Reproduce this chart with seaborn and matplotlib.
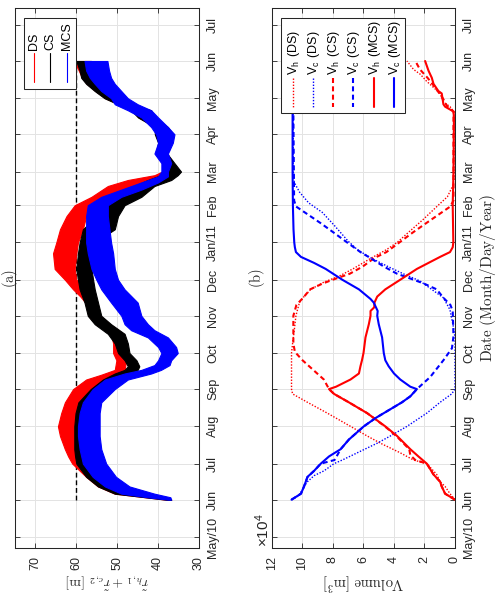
import numpy as np
import pandas as pd
import matplotlib
matplotlib.use("Agg")
import matplotlib.pyplot as plt
import seaborn as sns
from matplotlib.patches import Rectangle
from matplotlib.lines import Line2D
from matplotlib.transforms import Affine2D

sns.set_theme(style="white")
plt.rcParams['font.family'] = ['Liberation Sans', 'DejaVu Sans']
plt.rcParams['mathtext.fontset'] = 'cm'

# ---------------- data ----------------
tick_labels = ['May/10', 'Jun', 'Jul', 'Aug', 'Sep', 'Oct', 'Nov', 'Dec',
               'Jan/11', 'Feb', 'Mar', 'Apr', 'May', 'Jun', 'Jul']

# panel (a): band envelopes (low, high) of r_h1 + r_c2 [m]
a_ds_dates = ['2010-06-01', '2010-06-06', '2010-06-12', '2010-06-20', '2010-07-01', '2010-07-07',
              '2010-07-13', '2010-07-24', '2010-08-01', '2010-08-12', '2010-08-21', '2010-09-01',
              '2010-09-09', '2010-09-13', '2010-09-17', '2010-09-25', '2010-10-01', '2010-10-09',
              '2010-10-17', '2010-10-25', '2010-11-01', '2010-11-12', '2010-11-17', '2010-11-23',
              '2010-12-01', '2010-12-10', '2010-12-23', '2011-01-01', '2011-01-12', '2011-01-23',
              '2011-02-01', '2011-02-08', '2011-02-17', '2011-02-22', '2011-02-26', '2011-03-01',
              '2011-03-08', '2011-03-16', '2011-03-25', '2011-04-01', '2011-04-07', '2011-04-15',
              '2011-04-21', '2011-04-26', '2011-05-01', '2011-05-07', '2011-05-13', '2011-05-18',
              '2011-05-24', '2011-06-01']
a_ds_low = [36.8, 45.8, 50.6, 53.5, 57.0, 59.0, 60.0, 60.0, 60.0, 59.6, 58.8, 55.5,
            50.6, 49.0, 48.2, 47.8, 48.0, 48.0, 48.5, 51.8, 54.2, 55.0, 55.8, 56.5,
            60.0, 60.4, 60.0, 59.6, 58.4, 57.6, 56.3, 51.5, 45.8, 40.9, 38.5, 37.3,
            36.5, 38.0, 37.0, 36.6, 37.8, 41.0, 41.9, 46.8, 49.2, 51.7, 54.1, 55.3,
            56.1, 56.5]
a_ds_high = [38.0, 50.6, 54.7, 57.6, 61.0, 62.0, 62.8, 64.0, 64.5, 63.7, 62.8, 60.8,
             57.6, 53.9, 50.6, 50.2, 51.0, 51.0, 51.5, 55.2, 57.0, 57.8, 59.0, 60.8,
             62.8, 65.3, 65.7, 64.9, 64.0, 62.4, 60.4, 56.3, 52.3, 47.4, 40.9, 39.0,
             38.0, 40.3, 39.8, 40.6, 40.6, 44.7, 46.4, 49.6, 52.9, 55.3, 57.4, 58.6,
             59.4, 60.6]

a_cs_dates = ['2010-06-01', '2010-06-06', '2010-06-12', '2010-06-20', '2010-07-01', '2010-07-07',
              '2010-07-13', '2010-07-24', '2010-08-01', '2010-08-12', '2010-08-21', '2010-09-01',
              '2010-09-09', '2010-09-14', '2010-09-17', '2010-09-20', '2010-09-25', '2010-10-01',
              '2010-10-09', '2010-10-17', '2010-10-25', '2010-11-01', '2010-11-12', '2010-11-23',
              '2010-12-01', '2010-12-10', '2010-12-23', '2011-01-01', '2011-01-12', '2011-01-23',
              '2011-02-01', '2011-02-08', '2011-02-17', '2011-02-22', '2011-02-26', '2011-03-01',
              '2011-03-08', '2011-03-16', '2011-03-25', '2011-04-01', '2011-04-07', '2011-04-15',
              '2011-04-21', '2011-04-26', '2011-05-01', '2011-05-07', '2011-05-13', '2011-05-18',
              '2011-05-24', '2011-06-01']
a_cs_low = [36.8, 45.8, 50.6, 53.5, 56.3, 56.5, 56.5, 56.5, 56.5, 56.0, 55.0, 53.5,
            49.0, 45.8, 45.0, 44.6, 45.3, 47.0, 47.4, 48.2, 51.5, 53.9, 54.7, 55.5,
            55.9, 56.3, 56.3, 55.5, 50.6, 49.8, 48.2, 44.1, 40.9, 36.8, 35.2, 34.4,
            36.0, 37.8, 36.8, 36.4, 37.6, 40.9, 41.7, 46.6, 49.0, 51.5, 53.9, 55.1,
            55.9, 56.3]
a_cs_high = [38.0, 50.6, 54.7, 57.6, 60.0, 60.3, 60.5, 60.5, 60.5, 60.2, 59.5, 56.5,
             53.5, 50.6, 48.2, 47.4, 48.2, 49.8, 50.6, 52.3, 55.5, 57.2, 58.0, 59.2,
             59.6, 60.0, 59.6, 59.2, 58.4, 55.0, 53.0, 49.0, 45.8, 42.5, 39.3, 37.6,
             37.6, 40.5, 40.0, 40.8, 40.8, 44.9, 46.6, 49.8, 53.1, 55.5, 57.6, 58.8,
             59.2, 60.0]

a_mcs_dates = ['2010-06-01', '2010-06-03', '2010-06-06', '2010-06-12', '2010-06-20', '2010-07-01',
               '2010-07-13', '2010-07-24', '2010-08-01', '2010-08-12', '2010-08-21', '2010-09-01',
               '2010-09-09', '2010-09-14', '2010-09-17', '2010-09-21', '2010-09-25', '2010-10-01',
               '2010-10-06', '2010-10-14', '2010-10-20', '2010-10-25', '2010-11-01', '2010-11-12',
               '2010-11-23', '2010-12-01', '2010-12-10', '2010-12-23', '2011-01-01', '2011-01-12',
               '2011-01-23', '2011-02-01', '2011-02-08', '2011-02-14', '2011-02-20', '2011-02-25',
               '2011-03-01', '2011-03-08', '2011-03-16', '2011-03-25', '2011-04-01', '2011-04-07',
               '2011-04-15', '2011-04-21', '2011-04-26', '2011-05-01', '2011-05-07', '2011-05-13',
               '2011-05-18', '2011-05-24', '2011-06-01']
a_mcs_low = [36.8, 37.0, 40.9, 47.0, 50.3, 52.7, 53.9, 54.3, 54.3, 54.3, 53.9, 50.6,
             47.4, 41.7, 39.3, 37.2, 36.8, 35.2, 35.6, 37.6, 40.9, 42.5, 44.1, 45.0,
             48.2, 49.8, 50.6, 51.0, 51.5, 51.9, 52.3, 52.3, 49.0, 44.1, 40.0, 37.6,
             37.6, 36.8, 37.6, 36.4, 36.0, 37.6, 40.0, 41.7, 45.0, 47.4, 49.0, 50.6,
             51.5, 52.0, 52.4]
a_mcs_high = [37.5, 42.5, 49.0, 53.0, 56.0, 58.4, 59.2, 59.6, 59.6, 59.2, 58.4, 56.0,
              53.0, 48.2, 44.1, 40.9, 40.0, 39.2, 40.0, 42.5, 46.6, 48.2, 49.0, 51.5,
              53.9, 55.1, 56.3, 57.2, 57.6, 57.6, 57.6, 57.2, 53.9, 49.0, 44.1, 40.0,
              39.2, 39.2, 40.9, 40.0, 40.5, 41.7, 44.1, 47.4, 50.6, 51.5, 53.9, 55.5,
              56.7, 57.6, 58.0]

ref_level = 60
ref_dates = ['2010-06-01', '2011-06-01']

# panel (b): volumes [x 10^4 m^3]
vh_ds_dates = ['2010-06-01', '2010-06-06', '2010-06-12', '2010-06-16', '2010-06-22', '2010-06-28',
               '2010-07-01', '2010-07-04', '2010-07-10', '2010-07-18', '2010-07-24', '2010-08-01',
               '2010-08-12', '2010-08-21', '2010-08-28', '2010-09-01', '2010-10-01', '2010-10-09',
               '2010-10-20', '2010-11-01', '2010-11-04', '2010-11-12', '2010-11-17', '2010-11-23',
               '2010-11-29', '2010-12-04', '2010-12-10', '2010-12-19', '2010-12-26', '2011-01-01',
               '2011-01-10', '2011-01-20', '2011-02-01', '2011-02-08', '2011-02-17', '2011-02-22',
               '2011-04-20', '2011-04-24', '2011-04-28', '2011-05-05', '2011-05-10', '2011-05-15',
               '2011-05-21', '2011-05-25', '2011-06-01']
vh_ds = [0.0, 0.33, 0.65, 0.98, 1.2, 1.63, 1.85, 2.72, 3.59, 4.89, 5.76, 6.85,
         8.37, 9.67, 10.65, 10.72, 10.72, 10.65, 10.54, 10.43, 10.37, 10.2, 9.9, 9.46,
         8.6, 7.6, 6.7, 5.5, 4.5, 3.8, 3.0, 2.1, 1.1, 0.5, 0.15, 0.07,
         0.07, 0.33, 0.76, 0.98, 1.41, 1.85, 2.28, 2.72, 3.15]

vc_ds_dates = ['2010-06-01', '2010-06-04', '2010-06-06', '2010-06-12', '2010-06-16', '2010-06-21',
               '2010-06-25', '2010-07-01', '2010-07-04', '2010-07-10', '2010-07-18', '2010-07-24',
               '2010-08-01', '2010-08-12', '2010-08-21', '2010-08-28', '2010-09-01', '2010-10-14',
               '2010-10-23', '2010-11-06', '2010-11-16', '2010-11-20', '2010-11-30', '2010-12-06',
               '2010-12-12', '2010-12-19', '2010-12-26', '2011-01-02', '2011-01-15', '2011-01-26',
               '2011-02-03', '2011-02-12', '2011-02-20', '2011-03-01', '2011-04-20', '2011-05-01',
               '2011-05-15', '2011-06-01']
vc_ds = [10.72, 10.3, 10.15, 9.9, 9.67, 9.24, 8.59, 7.93, 7.39, 6.41, 5.1, 4.24,
         3.15, 1.85, 0.98, 0.22, 0.0, 0.0, 0.11, 0.33, 0.76, 1.2, 2.3, 3.4,
         4.4, 5.5, 6.4, 7.0, 7.9, 8.7, 9.6, 10.2, 10.54, 10.6, 10.62, 10.3,
         9.0, 7.6]

vh_cs_dates = ['2010-06-01', '2010-06-06', '2010-06-12', '2010-06-16', '2010-06-22', '2010-07-01',
               '2010-07-04', '2010-07-08', '2010-07-13', '2010-07-24', '2010-08-01', '2010-08-12',
               '2010-08-21', '2010-08-28', '2010-09-01', '2010-09-09', '2010-09-17', '2010-09-25',
               '2010-10-02', '2010-10-09', '2010-11-01', '2010-11-10', '2010-11-16', '2010-11-23',
               '2010-11-28', '2010-12-02', '2010-12-06', '2010-12-12', '2010-12-19', '2010-12-24',
               '2011-01-01', '2011-01-09', '2011-01-17', '2011-01-31', '2011-02-05', '2011-04-20',
               '2011-04-24', '2011-05-01', '2011-05-10', '2011-05-18', '2011-05-25', '2011-06-01']
vh_cs = [0.0, 0.65, 0.87, 0.98, 1.41, 1.85, 2.6, 2.93, 3.0, 3.85, 4.6, 5.76,
         6.96, 7.93, 8.26, 8.6, 9.3, 10.0, 10.5, 10.6, 10.6, 10.4, 9.96, 9.5,
         8.65, 7.8, 6.9, 6.05, 5.3, 4.5, 3.65, 2.8, 1.9, 0.3, 0.1, 0.1,
         0.5, 0.8, 1.3, 1.8, 2.3, 2.6]

vc_cs_dates = ['2010-06-01', '2010-06-06', '2010-06-12', '2010-06-20', '2010-06-25', '2010-07-01',
               '2010-07-04', '2010-07-08', '2010-07-13', '2010-07-21', '2010-08-01', '2010-08-08',
               '2010-08-12', '2010-08-21', '2010-08-26', '2010-09-01', '2010-09-11', '2010-09-25',
               '2010-10-05', '2010-10-15', '2010-11-05', '2010-11-10', '2010-11-16', '2010-11-23',
               '2010-11-28', '2010-12-02', '2010-12-06', '2010-12-12', '2010-12-19', '2010-12-24',
               '2011-01-01', '2011-01-09', '2011-01-17', '2011-01-31', '2011-02-05', '2011-04-20',
               '2011-05-01', '2011-05-15', '2011-06-01']
vc_cs = [10.72, 10.1, 9.9, 9.67, 9.24, 8.8, 7.9, 7.72, 7.5, 6.96, 5.98, 5.2,
         4.67, 3.48, 2.93, 2.5, 1.63, 0.76, 0.2, 0.1, 0.15, 0.3, 0.76, 1.2,
         2.07, 2.93, 3.8, 4.67, 5.54, 6.2, 7.07, 7.93, 8.8, 10.43, 10.55, 10.6,
         10.2, 9.2, 8.1]

vh_mcs_dates = ['2010-06-01', '2010-06-06', '2010-06-12', '2010-06-16', '2010-06-22', '2010-07-01',
                '2010-07-07', '2010-07-13', '2010-07-24', '2010-08-01', '2010-08-12', '2010-08-21',
                '2010-08-28', '2010-09-01', '2010-09-03', '2010-09-09', '2010-09-14', '2010-09-20',
                '2010-09-25', '2010-10-01', '2010-10-14', '2010-10-25', '2010-11-01', '2010-11-05',
                '2010-11-08', '2010-11-12', '2010-11-17', '2010-11-23', '2010-12-01', '2010-12-10',
                '2010-12-15', '2010-12-20', '2010-12-24', '2010-12-28', '2011-01-01', '2011-02-01',
                '2011-03-01', '2011-04-15', '2011-04-20', '2011-04-24', '2011-04-26', '2011-05-05',
                '2011-05-07', '2011-05-13', '2011-05-18', '2011-05-24', '2011-06-01']
vh_mcs = [0.0, 0.65, 0.87, 0.98, 1.41, 1.85, 2.4, 2.93, 3.8, 4.57, 5.76, 6.96,
          7.93, 8.26, 7.8, 6.85, 6.3, 6.2, 6.1, 6.0, 5.87, 5.65, 5.54, 5.54,
          5.3, 5.28, 5.1, 4.57, 3.59, 2.5, 1.74, 0.98, 0.33, 0.15, 0.11, 0.15,
          0.1, 0.07, 0.1, 0.65, 0.76, 0.87, 1.09, 1.41, 1.52, 1.74, 1.96]

vc_mcs_dates = ['2010-06-01', '2010-06-06', '2010-06-12', '2010-06-20', '2010-06-25', '2010-07-01',
                '2010-07-07', '2010-07-13', '2010-07-21', '2010-08-01', '2010-08-08', '2010-08-12',
                '2010-08-21', '2010-08-26', '2010-09-01', '2010-09-03', '2010-09-09', '2010-09-14',
                '2010-09-20', '2010-09-25', '2010-10-01', '2010-10-14', '2010-10-25', '2010-11-01',
                '2010-11-05', '2010-11-12', '2010-11-15', '2010-11-23', '2010-12-01', '2010-12-10',
                '2010-12-15', '2010-12-20', '2010-12-24', '2010-12-28', '2011-01-01', '2011-01-12',
                '2011-02-01', '2011-03-01', '2011-04-20', '2011-04-26', '2011-05-07', '2011-05-18',
                '2011-06-01']
vc_mcs = [10.72, 10.1, 9.9, 9.67, 9.24, 8.8, 8.26, 7.5, 6.96, 5.98, 5.2, 4.67,
          3.48, 2.93, 2.5, 2.93, 3.59, 4.0, 4.35, 4.57, 4.67, 4.78, 5.0, 5.1,
          5.07, 5.33, 5.54, 6.3, 7.39, 8.48, 9.24, 10.1, 10.43, 10.5, 10.54, 10.59,
          10.63, 10.65, 10.65, 10.0, 9.6, 9.1, 8.7]

# ---------------- helpers ----------------
BASE = pd.Timestamp('2010-05-01')


def days(ds):
    return np.asarray((pd.to_datetime(ds) - BASE).days, dtype=float)


tick_days = days(pd.date_range('2010-05-01', '2011-07-01', freq='MS'))

W, H = 502, 594
fig = plt.figure(figsize=(W / 100, H / 100), dpi=100)
T = Affine2D().scale(1.0 / W, -1.0 / H).translate(0, 1) + fig.transFigure  # image pixels

axA = fig.add_axes([15 / W, 1 - 548 / H, 184 / W, 540 / H])
axB = fig.add_axes([272 / W, 1 - 548 / H, 183 / W, 540 / H])

DARK = '#262626'
RED, BLUE, BLACK = '#ff0000', '#0000ff', '#000000'

# ---------------- panel (a) ----------------
sns.lineplot(x=[ref_level, ref_level], y=days(ref_dates), orient='y', estimator=None,
             sort=False, color='black', lw=1.0, linestyle=(0, (3.5, 2.0)), ax=axA)
axA.lines[-1].set_zorder(0.9)

for dates, lo, hi, col in [(a_ds_dates, a_ds_low, a_ds_high, RED),
                           (a_cs_dates, a_cs_low, a_cs_high, BLACK),
                           (a_mcs_dates, a_mcs_low, a_mcs_high, BLUE)]:
    d = days(dates)
    df = pd.DataFrame({'day': np.concatenate([d, d]),
                       'val': np.concatenate([lo, hi])})
    sns.lineplot(data=df, x='val', y='day', orient='y', estimator='mean',
                 errorbar=('pi', 100), color=col, lw=0.6,
                 err_kws=dict(alpha=1, linewidth=0.8, edgecolor=col), ax=axA)
    axA.lines[-1].set_visible(False)   # keep only the min-max band

# ---------------- panel (b) ----------------
series_b = [
    (vh_ds_dates, vh_ds, RED, 1.0, (0, (1.0, 1.2))),
    (vc_ds_dates, vc_ds, BLUE, 1.0, (0, (1.0, 1.2))),
    (vh_cs_dates, vh_cs, RED, 1.5, (0, (2.4, 1.6))),
    (vc_cs_dates, vc_cs, BLUE, 1.5, (0, (2.4, 1.6))),
    (vh_mcs_dates, vh_mcs, RED, 1.5, '-'),
    (vc_mcs_dates, vc_mcs, BLUE, 1.5, '-'),
]
for dates, vals, col, lw, ls in series_b:
    sns.lineplot(x=vals, y=days(dates), orient='y', estimator=None, sort=False,
                 color=col, lw=lw, linestyle=ls, ax=axB)

# ---------------- axes styling ----------------
for ax, xlim, xt in [(axA, (75, 30), [30, 40, 50, 60, 70]),
                     (axB, (12, 0), [0, 2, 4, 6, 8, 10, 12])]:
    ax.set_xlim(*xlim)
    ax.set_ylim(-9.2, 440.1)
    ax.set_xticks(xt)
    ax.set_xticklabels([str(v) for v in xt])
    ax.set_yticks(tick_days)
    ax.set_yticklabels(tick_labels)
    ax.set_xlabel('')
    ax.set_ylabel('')
    ax.grid(True, color='#e3e3e3', lw=0.7)
    ax.set_axisbelow(True)
    ax.tick_params(axis='y', left=True, right=True, labelleft=False, labelright=True,
                   direction='in', length=3.6, width=0.6, pad=6, labelsize=9,
                   labelrotation=90, colors=DARK)
    ax.tick_params(axis='x', top=True, bottom=True, labeltop=False, labelbottom=True,
                   direction='in', length=3.6, width=0.6, pad=5.5, labelsize=9,
                   labelrotation=90, colors=DARK)
    for lab in ax.get_yticklabels():
        lab.set_va('center')
        lab.set_ha('left')
    for s in ax.spines.values():
        s.set_color(DARK)
        s.set_linewidth(0.75)
    ax.set_facecolor('white')

# ---------------- legends (drawn in image-pixel coordinates) ----------------
axA.add_artist(Rectangle((24, 18), 52, 71, transform=T, facecolor='white',
                         edgecolor=DARK, lw=0.75, zorder=20, clip_on=False))
for x, lab, col in [(34, 'DS', RED), (50.5, 'CS', BLACK), (67, 'MCS', BLUE)]:
    axA.add_artist(Line2D([x, x], [53, 82], transform=T, color=col, lw=0.8,
                          zorder=21, clip_on=False))
    axA.text(x, 50, lab, transform=T, rotation=90, ha='center', va='bottom',
             fontsize=9, color='black', zorder=22, clip_on=False)

axB.add_artist(Rectangle((281, 18), 124, 95, transform=T, facecolor='white',
                         edgecolor=DARK, lw=0.75, zorder=20, clip_on=False))
leg_b = [(292.7, 'V$_\\mathregular{h}$ (DS)', RED, 1.0, (0, (1.0, 1.2))),
         (312.7, 'V$_\\mathregular{c}$ (DS)', BLUE, 1.0, (0, (1.0, 1.2))),
         (333.3, 'V$_\\mathregular{h}$ (CS)', RED, 1.5, (0, (2.4, 1.6))),
         (353.3, 'V$_\\mathregular{c}$ (CS)', BLUE, 1.5, (0, (2.4, 1.6))),
         (374.0, 'V$_\\mathregular{h}$ (MCS)', RED, 1.5, '-'),
         (394.0, 'V$_\\mathregular{c}$ (MCS)', BLUE, 1.5, '-')]
for x, lab, col, lw, ls in leg_b:
    axB.add_artist(Line2D([x, x], [78, 107], transform=T, color=col, lw=lw,
                          linestyle=ls, zorder=21, clip_on=False))
    axB.text(x + 1.0, 75, lab, transform=T, rotation=90, ha='center', va='bottom',
             fontsize=9, color='black', zorder=22, clip_on=False)

# ---------------- titles and labels ----------------
fig.text(9.5, 278, r'$\mathrm{(a)}$', transform=T, rotation=90, ha='center', va='center',
         fontsize=10.5, color=DARK)
fig.text(257, 278, r'$\mathrm{(b)}$', transform=T, rotation=90, ha='center', va='center',
         fontsize=10.5, color=DARK)
fig.text(107, 580, r'$\tilde{r}_{h,1}+\tilde{r}_{c,2}\ \mathrm{[m]}$', transform=T,
         rotation=180, ha='center', va='center', fontsize=10, color=DARK)
fig.text(364, 582, r'$\mathrm{Volume\ [m^3]}$', transform=T, rotation=180,
         ha='center', va='center', fontsize=10.5, color=DARK)
fig.text(488, 278, r'$\mathrm{Date\ (Month/Day/Year)}$', transform=T, rotation=90,
         ha='center', va='center', fontsize=11, color=DARK)
fig.text(263, 547, '×10$^\\mathregular{4}$', transform=T, rotation=90, ha='center',
         va='bottom', fontsize=11, color=DARK)

fig.savefig('out.png', dpi=100)
